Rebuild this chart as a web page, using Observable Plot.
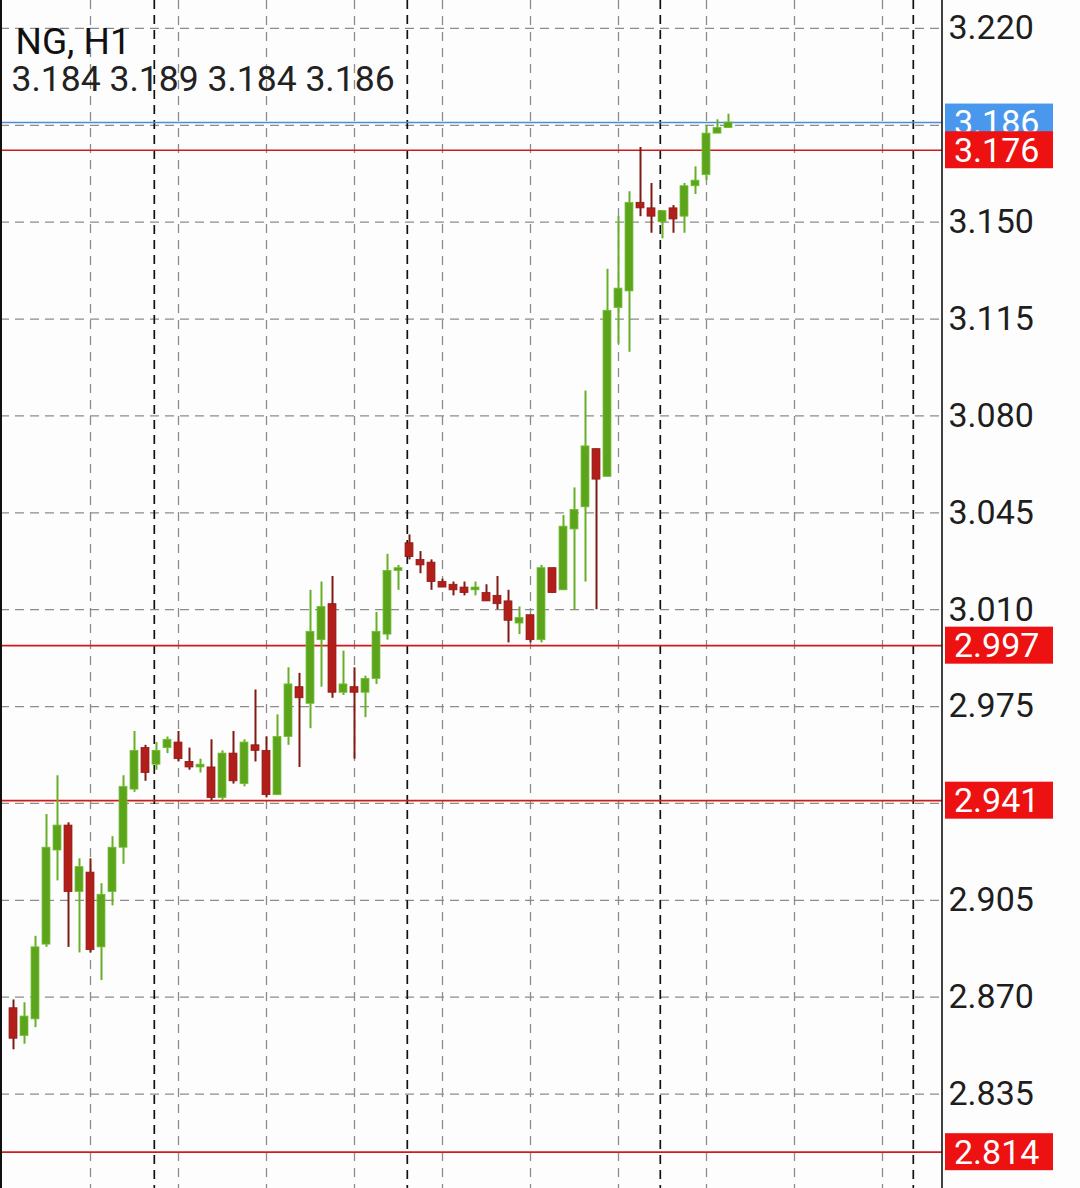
<!DOCTYPE html>
<html><head><meta charset="utf-8">
<script src="https://cdn.jsdelivr.net/npm/d3@7"></script>
<script src="https://cdn.jsdelivr.net/npm/@observablehq/plot@0.6"></script>
<style>
html,body{margin:0;padding:0;background:#fdfdfd;}
#chart{width:1080px;height:1188px;}
svg{display:block;}
</style></head><body><div id="chart"></div>
<script>
const symbol = "NG, H1";
const opens = [2.866,2.856,2.862,2.889,2.923,2.932,2.908,2.915,2.888,2.908,
2.924,2.945,2.960,2.954,2.960,2.962,2.955,2.953,2.953,2.942,
2.958,2.947,2.961,2.959,2.943,2.964,2.982,2.976,2.999,3.012,
2.980,2.982,2.980,2.985,3.001,3.024,3.034,3.028,3.027,3.020,
3.019,3.018,3.017,3.016,3.015,3.013,3.005,3.008,2.999,3.025,
3.017,3.039,3.047,3.068,3.058,3.119,3.125,3.157,3.155,3.150,
3.155,3.152,3.163,3.167,3.182,3.184];
const highs = [2.869,2.868,2.892,2.936,2.950,2.933,2.920,2.920,2.911,2.928,
2.950,2.966,2.961,2.962,2.964,2.966,2.960,2.956,2.963,2.959,
2.966,2.963,2.981,2.964,2.972,2.989,2.987,3.017,3.020,3.022,
2.995,2.989,2.986,3.009,3.030,3.026,3.037,3.031,3.028,3.021,
3.020,3.020,3.020,3.019,3.022,3.017,3.011,3.008,3.026,3.025,
3.044,3.054,3.089,3.068,3.133,3.152,3.161,3.177,3.164,3.154,
3.156,3.164,3.170,3.185,3.187,3.189];
const lows = [2.851,2.853,2.859,2.888,2.912,2.888,2.886,2.886,2.876,2.903,
2.918,2.944,2.948,2.952,2.958,2.955,2.952,2.951,2.941,2.941,
2.947,2.946,2.955,2.942,2.943,2.961,2.953,2.967,2.982,2.978,
2.979,2.956,2.971,2.983,2.999,3.017,3.028,3.023,3.017,3.018,
3.015,3.015,3.015,3.013,3.010,2.998,3.001,2.998,2.998,3.016,
3.017,3.010,3.020,3.010,3.058,3.106,3.103,3.152,3.146,3.144,
3.146,3.146,3.160,3.165,3.182,3.184];
const closes = [2.855,2.863,2.888,2.924,2.932,2.908,2.917,2.887,2.907,2.924,
2.946,2.959,2.951,2.959,2.963,2.956,2.953,2.954,2.942,2.958,
2.948,2.962,2.959,2.943,2.964,2.983,2.978,3.002,3.011,2.980,
2.983,2.980,2.985,3.002,3.024,3.025,3.029,3.026,3.020,3.018,
3.017,3.016,3.018,3.013,3.012,3.006,3.007,2.999,3.025,3.016,
3.040,3.046,3.069,3.057,3.118,3.126,3.157,3.155,3.152,3.154,
3.151,3.163,3.165,3.182,3.184,3.186];
const yTicks = [3.220,3.185,3.150,3.115,3.080,3.045,3.010,2.975,2.940,2.905,2.870,2.835];
const levels = [3.176,2.997,2.941,2.814];
const bid = 3.186;
const sessionStarts = [13,36,59,82];
const gridIdx = [7,15,23,31,39,47,55,63,71,79];

const candles = opens.map((o,i)=>({i, o, h:highs[i], l:lows[i], c:closes[i], up: closes[i] >= o}));
const last = candles[candles.length-1];
const ohlcText = [last.o,last.h,last.l,last.c].map(v=>v.toFixed(3)).join(" ");
// tick labels that are hidden behind the price boxes are not drawn
const boxed = [bid, ...levels];
const labelTicks = yTicks.filter(t => !boxed.some(b => Math.abs(b - t) < 0.006));

const W = 1080, H = 1188, PW = 942;
const GREEN = "#5ba41c", GREEN_W = "#66b026", RED = "#b21e19", RED_W = "#7f1b14";
const FONT = "Roboto, 'Noto Sans', sans-serif";

const plot = Plot.plot({
  width: W, height: H,
  marginLeft: 0, marginRight: W - PW, marginTop: 0, marginBottom: 0,
  x: {domain: [-13/11, (PW-13)/11], axis: null},
  y: {domain: [2.80088, 3.2301], axis: null},
  color: {type: "identity"},
  style: {fontFamily: FONT, background: "#fdfdfd", overflow: "visible"},
  marks: [
    Plot.ruleY(yTicks, {stroke: "#8c8c8c", strokeWidth: 1.3, strokeDasharray: "9,6"}),
    Plot.ruleX(gridIdx, {stroke: "#8c8c8c", strokeWidth: 1.3, strokeDasharray: "9,7"}),
    Plot.ruleX(sessionStarts, {x: d => d - 0.2, stroke: "#111", strokeWidth: 1.7, strokeDasharray: "9,6"}),
    Plot.ruleY([bid], {stroke: "#4a8ed8", strokeWidth: 1.4}),
    Plot.ruleY(levels, {stroke: "#d01b1b", strokeWidth: 1.7}),
    Plot.ruleX(candles, {x: "i", y1: "l", y2: "h", stroke: d => d.up ? GREEN_W : RED_W, strokeWidth: 2}),
    Plot.rect(candles, {x1: d => d.i - 0.36, x2: d => d.i + 0.36, y1: "o", y2: "c",
      fill: d => d.up ? GREEN : RED, stroke: d => d.up ? "#72bd30" : "#8e1a14", strokeWidth: 0.8}),
    Plot.axisY(labelTicks, {anchor: "right", tickSize: 0, tickPadding: 6, fontSize: 34,
      tickFormat: d3.format(".3f"), fill: "#1e1e1e"}),
    Plot.text([symbol], {frameAnchor: "top-left", dx: 15, dy: 27, fontSize: 37, fill: "#111", textAnchor: "start"}),
    Plot.text([ohlcText], {frameAnchor: "top-left", dx: 11, dy: 65, fontSize: 35.5, fill: "#222", textAnchor: "start"})
  ]
});
document.getElementById("chart").appendChild(plot);

// borders and price labels, positioned through Plot's scales
const svg = d3.select(plot);
const ys = plot.scale("y");
const xR = plot.scale("x").range[1];
svg.append("line").attr("x1", 1).attr("x2", 1).attr("y1", 0).attr("y2", H).attr("stroke", "#111").attr("stroke-width", 2);
svg.append("line").attr("x1", xR).attr("x2", xR).attr("y1", 0).attr("y2", H).attr("stroke", "#111").attr("stroke-width", 1.6);
const g = svg.append("g");
function addLabel(v, color) {
  const y = ys.apply(v);
  g.append("rect").attr("x", xR + 3).attr("y", y - 18.5).attr("width", 108).attr("height", 37).attr("fill", color);
  g.append("text").attr("x", xR + 12).attr("y", y).attr("dy", "0.36em").attr("fill", "#fff")
    .attr("text-anchor", "start").attr("font-size", 34).attr("font-family", FONT).text(v.toFixed(3));
}
addLabel(bid, "#4a98ee");
levels.forEach(v => addLabel(v, "#ee1111"));
</script></body></html>
